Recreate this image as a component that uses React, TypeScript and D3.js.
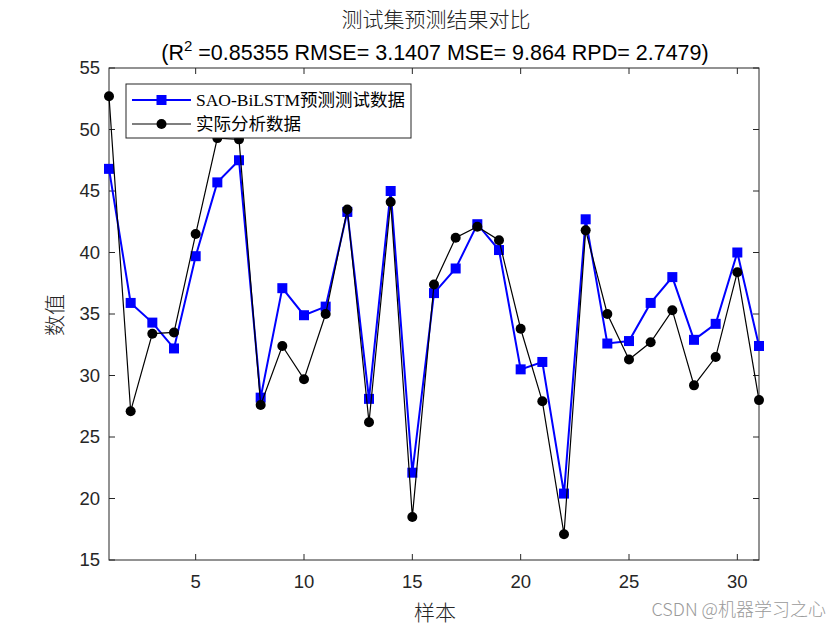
import React from 'react';
import * as d3 from 'd3';

const samples = d3.range(1, 32);
const predicted = [46.8, 35.9, 34.3, 32.2, 39.7, 45.7, 47.5, 28.2, 37.1, 34.9, 35.6, 43.3, 28.1, 45.0, 22.1, 36.7, 38.7, 42.3, 40.2, 30.5, 31.1, 20.4, 42.7, 32.6, 32.8, 35.9, 38.0, 32.9, 34.2, 40.0, 32.4];
const actual = [52.7, 27.1, 33.4, 33.5, 41.5, 49.3, 49.2, 27.6, 32.4, 29.7, 35.0, 43.5, 26.2, 44.1, 18.5, 37.4, 41.2, 42.1, 41.0, 33.8, 27.9, 17.1, 41.8, 35.0, 31.3, 32.7, 35.3, 29.2, 31.5, 38.4, 28.0];
const xTicks = [5, 10, 15, 20, 25, 30];
const yTicks = [15, 20, 25, 30, 35, 40, 45, 50, 55];
const seriesNames = ['SAO-BiLSTM预测测试数据', '实际分析数据'];

export default function App() {
  const width = 840;
  const height = 630;
  const margin = { top: 68, right: 81, bottom: 70, left: 109 };
  const innerWidth = width - margin.left - margin.right;
  const innerHeight = height - margin.top - margin.bottom;

  const xScale = d3.scaleLinear().domain([1, 31]).range([0, innerWidth]);
  const yScale = d3.scaleLinear().domain([15, 55]).range([innerHeight, 0]);

  const line = d3.line<number>()
    .x((d, i) => xScale(samples[i]))
    .y(d => yScale(d));

  const tickLen = 6;
  const axisFont = '"Liberation Sans", Arial, sans-serif';
  const cjkFont = '"Noto Sans CJK SC", sans-serif';
  const serifFont = '"Liberation Serif", "Noto Sans CJK SC", serif';

  return (
    <svg width={width} height={height} style={{ position: 'absolute', left: 0, top: 0 }}>
      <rect width={width} height={height} fill="white" />
      <text x={436} y={27} textAnchor="middle" fontFamily={cjkFont} fontSize={21} fontWeight={300} fill="#222">测试集预测结果对比</text>
      <text x={435} y={60} textAnchor="middle" fontFamily={axisFont} fontSize={21.5} fill="#000">
        (R<tspan dy={-9} fontSize={15}>2</tspan><tspan dy={9}> =0.85355 RMSE= 3.1407 MSE= 9.864 RPD= 2.7479)</tspan>
      </text>
      <g transform={`translate(${margin.left},${margin.top})`}>
        <rect width={innerWidth} height={innerHeight} fill="white" stroke="#262626" strokeWidth={1} />
        {xTicks.map(t => (
          <g key={`x${t}`}>
            <line x1={xScale(t)} x2={xScale(t)} y1={innerHeight} y2={innerHeight - tickLen} stroke="#262626" />
            <line x1={xScale(t)} x2={xScale(t)} y1={0} y2={tickLen} stroke="#262626" />
            <text x={xScale(t)} y={innerHeight + 28} textAnchor="middle" fontFamily={axisFont} fontSize={18.5} fill="#262626">{t}</text>
          </g>
        ))}
        {yTicks.map(t => (
          <g key={`y${t}`}>
            <line x1={0} x2={tickLen} y1={yScale(t)} y2={yScale(t)} stroke="#262626" />
            <line x1={innerWidth} x2={innerWidth - tickLen} y1={yScale(t)} y2={yScale(t)} stroke="#262626" />
            <text x={-9} y={yScale(t) + 6} textAnchor="end" fontFamily={axisFont} fontSize={18.5} fill="#262626">{t}</text>
          </g>
        ))}
        <path d={line(predicted) || ''} fill="none" stroke="#0000ff" strokeWidth={2} />
        {predicted.map((v, i) => (
          <rect key={`p${i}`} x={xScale(samples[i]) - 5} y={yScale(v) - 5} width={10} height={10} fill="#0000ff" />
        ))}
        <path d={line(actual) || ''} fill="none" stroke="#000" strokeWidth={1.2} />
        {actual.map((v, i) => (
          <circle key={`a${i}`} cx={xScale(samples[i])} cy={yScale(v)} r={5} fill="#000" />
        ))}
        <g transform="translate(17,16)">
          <rect width={285} height={54} fill="white" stroke="#262626" strokeWidth={1} />
          <line x1={6} x2={65} y1={16} y2={16} stroke="#0000ff" strokeWidth={2} />
          <rect x={30.5} y={11} width={10} height={10} fill="#0000ff" />
          <text x={70} y={22} fontFamily={serifFont} fontSize={17.5} fill="#000">{seriesNames[0]}</text>
          <line x1={6} x2={65} y1={40} y2={40} stroke="#000" strokeWidth={1.2} />
          <circle cx={35.5} cy={40} r={5} fill="#000" />
          <text x={70} y={46} fontFamily={serifFont} fontSize={17.5} fill="#000">{seriesNames[1]}</text>
        </g>
      </g>
      <text x={62} y={315} textAnchor="middle" fontFamily={cjkFont} fontSize={21} fontWeight={300} fill="#262626" transform="rotate(-90,62,315)">数值</text>
      <text x={435} y={620} textAnchor="middle" fontFamily={cjkFont} fontSize={21} fontWeight={300} fill="#262626">样本</text>
      <text x={826} y={616} textAnchor="end" fontFamily={cjkFont} fontSize={18} fontWeight={300} fill="#9a9a9a">CSDN @机器学习之心</text>
    </svg>
  );
}
